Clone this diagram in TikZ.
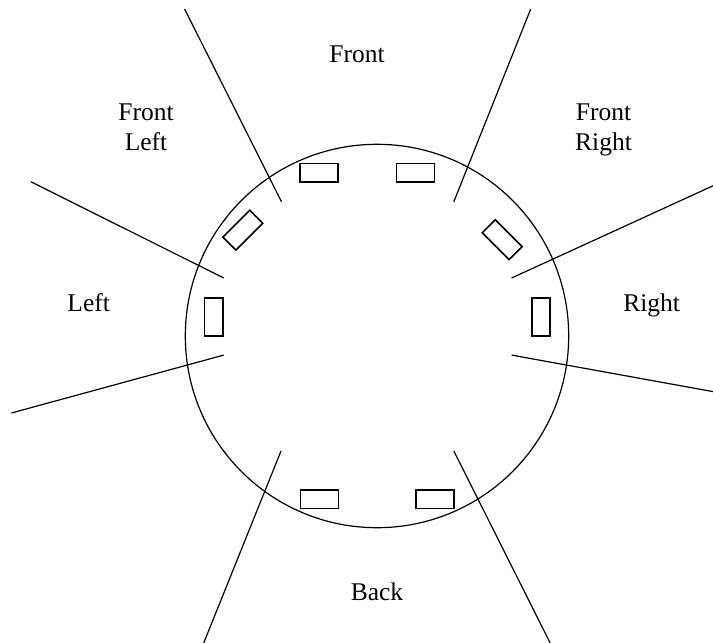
\documentclass[tikz,border=0pt]{standalone}
\usepackage{fontspec}
\setmainfont{Liberation Serif}
\begin{document}
\begin{tikzpicture}[x=1pt,y=-1pt,
  zone/.style={line width=1.2pt},
  sensor/.style={draw, line width=1.6pt, rectangle, minimum width=38pt,
    minimum height=18.4pt, inner sep=0pt, outer sep=0pt},
  zonelabel/.style={font=\fontsize{25.5}{30}\selectfont, inner sep=0pt,
    align=center, anchor=base}]
\useasboundingbox (0,0) rectangle (713,643);

% robot body
\node[draw, circle, line width=1.2pt, minimum size=383.4pt, inner sep=0pt,
  outer sep=0pt] (body) at (377,336) {};

% sensors around the rim
\node[sensor] (s1) at (319.0,172.8) {};
\node[sensor] (s2) at (415.6,172.8) {};
\node[sensor, rotate=-45] (s3) at (502.2,239.6) {};
\node[sensor, rotate=90] (s4) at (541.0,316.8) {};
\node[sensor] (s5) at (434.8,499.2) {};
\node[sensor] (s6) at (319.5,499.2) {};
\node[sensor, rotate=90] (s7) at (213.7,316.8) {};
\node[sensor, rotate=45] (s8) at (242.8,230.2) {};

% zone boundaries
\coordinate (tlO) at (184.6,9.0);   \coordinate (tlI) at (281.5,201.8);
\coordinate (trO) at (530.7,9.0);   \coordinate (trI) at (453.8,201.8);
\coordinate (luO) at (30.9,181.7);  \coordinate (luI) at (223.7,278.0);
\coordinate (ruO) at (713.0,185.8); \coordinate (ruI) at (511.6,278.0);
\coordinate (llO) at (11.4,413.0);  \coordinate (llI) at (223.7,355.1);
\coordinate (rlO) at (713.0,391.6); \coordinate (rlI) at (511.6,355.1);
\coordinate (blO) at (203.7,643.0); \coordinate (blI) at (281.0,451.0);
\coordinate (brO) at (550.2,643.0); \coordinate (brI) at (453.8,451.0);

\draw[zone] (tlO) -- (tlI);
\draw[zone] (trO) -- (trI);
\draw[zone] (luO) -- (luI);
\draw[zone] (ruO) -- (ruI);
\draw[zone] (llO) -- (llI);
\draw[zone] (rlO) -- (rlI);
\draw[zone] (blO) -- (blI);
\draw[zone] (brO) -- (brI);

% zone names (base anchor sits on the last line's baseline)
\node[zonelabel] (front) at (357.0,62.3) {Front};
\node[zonelabel] (fleft) at (146.0,150.0) {Front\\Left};
\node[zonelabel] (fright) at (603.5,150.0) {Front\\Right};
\node[zonelabel] (left) at (88.7,311.2) {Left};
\node[zonelabel] (right) at (651.7,311.5) {Right};
\node[zonelabel] (back) at (377.0,600.0) {Back};
\end{tikzpicture}
\end{document}
